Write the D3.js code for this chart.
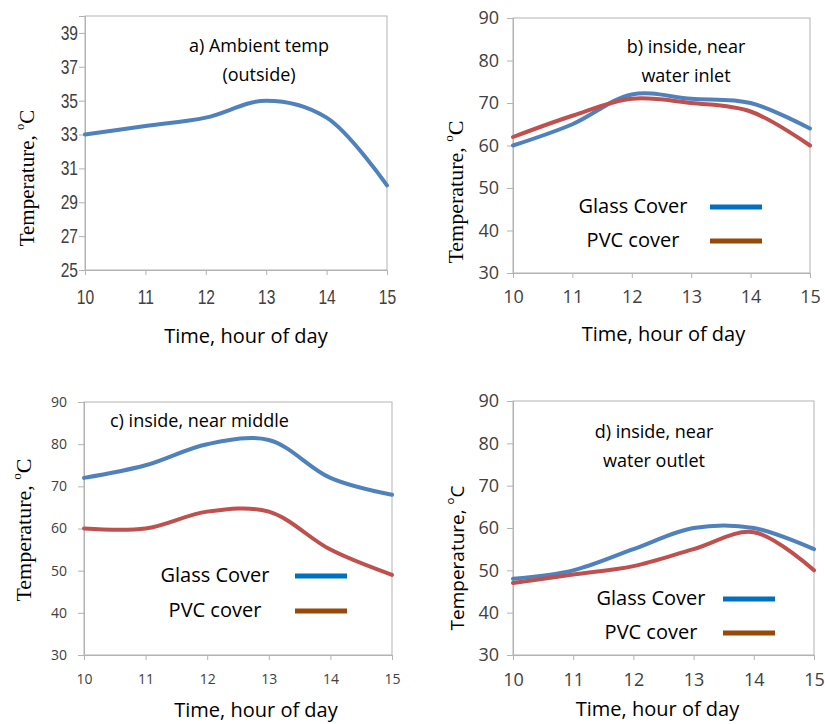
<!DOCTYPE html>
<html>
<head>
<meta charset="utf-8">
<script src="https://cdn.jsdelivr.net/npm/d3@7"></script>
<style>
  body { margin: 0; background: #fff; }
  svg { display: block; }
</style>
</head>
<body>
<svg id="chart" width="825" height="724"></svg>
<script>
// hours on the x axis
const hours = [10, 11, 12, 13, 14, 15];

// a) ambient
const ambient = [33, 33.5, 34, 35, 34, 30];
// b) inside, near water inlet
const inletGlass = [60, 65, 72, 71, 70, 64];
const inletPvc = [62, 67, 71, 70, 68, 60];
// c) inside, near middle
const middleGlass = [72, 75, 80, 81, 72, 68];
const middlePvc = [60, 60, 64, 64, 55, 49];
// d) inside, near water outlet
const outletGlass = [48, 50, 55, 60, 60, 55];
const outletPvc = [47, 49, 51, 55, 59, 50];

const ticksA = [25, 27, 29, 31, 33, 35, 37, 39];
const ticksBCD = [30, 40, 50, 60, 70, 80, 90];
const legendNames = ["Glass Cover", "PVC cover"];

const lineBlue = "#4f81bd", lineRed = "#c0504d";
const legBlue = "#0070c0", legBrown = "#984807";

const svg = d3.select("#chart");

function drawPanel(p) {
    const g = svg.append("g");
    let x = d3.scaleLinear().domain([10, 15]).range([p.left, p.right]);
    let y = d3.scaleLinear().domain(p.yDomain).range([p.bottom, p.top]);

    // plot frame
    g.append("rect")
        .attr("x", p.left).attr("y", p.top)
        .attr("width", p.right - p.left).attr("height", p.bottom - p.top)
        .attr("fill", "none").attr("stroke", "#b3b3b3").attr("stroke-width", 1);

    let yAxis = d3.axisLeft(y).tickValues(p.yTicks).tickSize(6).tickPadding(p.yPad).tickFormat(d3.format("d"));
    let xAxis = d3.axisBottom(x).tickValues(hours).tickSize(5).tickPadding(p.xPad).tickFormat(d3.format("d"));

    let ya = g.append("g").attr("transform", `translate(${p.left},0)`).call(yAxis);
    let xa = g.append("g").attr("transform", `translate(0,${p.bottom})`).call(xAxis);
    [ya, xa].forEach(a => {
        a.select(".domain").attr("stroke", "#b3b3b3");
        a.selectAll(".tick line").attr("stroke", "#b3b3b3");
        a.selectAll(".tick text")
            .attr("fill", "#404040")
            .style("font-family", p.tickFont)
            .style("font-size", p.tickSize + "px");
        // condensed look of the ambient panel's tick labels
        if (p.narrow) a.selectAll(".tick text").attr("transform", `scale(${p.narrow},1)`);
    });

    let line = d3.line()
        .x((d, i) => x(hours[i]))
        .y(d => y(d))
        .curve(d3.curveCatmullRom.alpha(0.5));

    p.series.forEach(s => {
        g.append("path")
            .datum(s.values)
            .attr("d", line)
            .attr("fill", "none")
            .attr("stroke", s.color)
            .attr("stroke-width", 4)
            .attr("stroke-linecap", "round");
    });

    // panel title
    p.title.forEach((t, i) => {
        g.append("text")
            .attr("x", p.titleX).attr("y", p.titleY + i * 29)
            .attr("text-anchor", p.titleAnchor || "middle")
            .style("font-family", "'Open Sans', sans-serif")
            .style("font-size", "18px")
            .text(t);
    });

    // axis titles
    g.append("text")
        .attr("x", (p.left + p.right) / 2 + p.xTitleDx).attr("y", p.xTitleY)
        .attr("text-anchor", "middle")
        .style("font-family", "'Open Sans', sans-serif")
        .style("font-size", "20px")
        .text("Time, hour of day");

    let yl = g.append("text")
        .attr("transform", `translate(${p.yTitleX},${p.yTitleY}) rotate(-90)`)
        .attr("text-anchor", "middle")
        .style("font-family", p.yTitleFont)
        .style("font-size", p.yTitleSize + "px");
    yl.append("tspan").text("Temperature, ");
    yl.append("tspan").attr("dy", -10).style("font-size", (p.yTitleSize * 0.6) + "px").text("o");
    yl.append("tspan").attr("dy", 10).text("C");

    // legend
    if (p.legend) {
        const lg = p.legend;
        p.series.forEach((s, i) => {
            g.append("text")
                .attr("x", lg.textX).attr("y", lg.y + i * lg.gap)
                .attr("text-anchor", "middle")
                .style("font-family", "'Open Sans', sans-serif")
                .style("font-size", "20px")
                .text(legendNames[i]);
            g.append("line")
                .attr("x1", lg.lineX).attr("x2", lg.lineX + 52)
                .attr("y1", lg.y + i * lg.gap - 6).attr("y2", lg.y + i * lg.gap - 6)
                .attr("stroke", i === 0 ? legBlue : legBrown)
                .attr("stroke-width", 5);
        });
    }
}

const sansTicks = "'Open Sans', sans-serif";

drawPanel({
    left: 85, right: 387, top: 16, bottom: 270,
    yDomain: [25, 40], yTicks: ticksA,
    tickFont: "'Liberation Sans', sans-serif", tickSize: 20, narrow: 0.78,
    yPad: 3, xPad: 15,
    series: [{ values: ambient, color: lineBlue }],
    title: ["a) Ambient temp", "(outside)"], titleX: 259, titleY: 52,
    xTitleDx: 10, xTitleY: 343,
    yTitleX: 34, yTitleY: 178, yTitleFont: "'Liberation Serif', serif", yTitleSize: 21
});

drawPanel({
    left: 513, right: 810, top: 18, bottom: 273,
    yDomain: [30, 90], yTicks: ticksBCD,
    tickFont: sansTicks, tickSize: 18,
    yPad: 8, xPad: 12,
    series: [{ values: inletGlass, color: lineBlue }, { values: inletPvc, color: lineRed }],
    title: ["b) inside, near", "water inlet"], titleX: 686, titleY: 53,
    xTitleDx: 2, xTitleY: 341,
    yTitleX: 463, yTitleY: 192, yTitleFont: "'Liberation Serif', serif", yTitleSize: 22,
    legend: { textX: 633, lineX: 710, y: 213, gap: 34 }
});

drawPanel({
    left: 84, right: 392, top: 402, bottom: 655,
    yDomain: [30, 90], yTicks: ticksBCD,
    tickFont: sansTicks, tickSize: 14,
    yPad: 11, xPad: 14,
    series: [{ values: middleGlass, color: lineBlue }, { values: middlePvc, color: lineRed }],
    title: ["c) inside, near middle"], titleX: 110, titleY: 427, titleAnchor: "start",
    xTitleDx: 18, xTitleY: 717,
    yTitleX: 31, yTitleY: 530, yTitleFont: "'Liberation Serif', serif", yTitleSize: 22,
    legend: { textX: 215, lineX: 295, y: 582, gap: 35 }
});

drawPanel({
    left: 513, right: 814, top: 401, bottom: 655,
    yDomain: [30, 90], yTicks: ticksBCD,
    tickFont: sansTicks, tickSize: 18,
    yPad: 8, xPad: 13,
    series: [{ values: outletGlass, color: lineBlue }, { values: outletPvc, color: lineRed }],
    title: ["d) inside, near", "water outlet"], titleX: 654, titleY: 438,
    xTitleDx: -6, xTitleY: 716,
    yTitleX: 464, yTitleY: 558, yTitleFont: "'Open Sans', sans-serif", yTitleSize: 19,
    legend: { textX: 651, lineX: 723, y: 605, gap: 34 }
});
</script>
</body>
</html>
